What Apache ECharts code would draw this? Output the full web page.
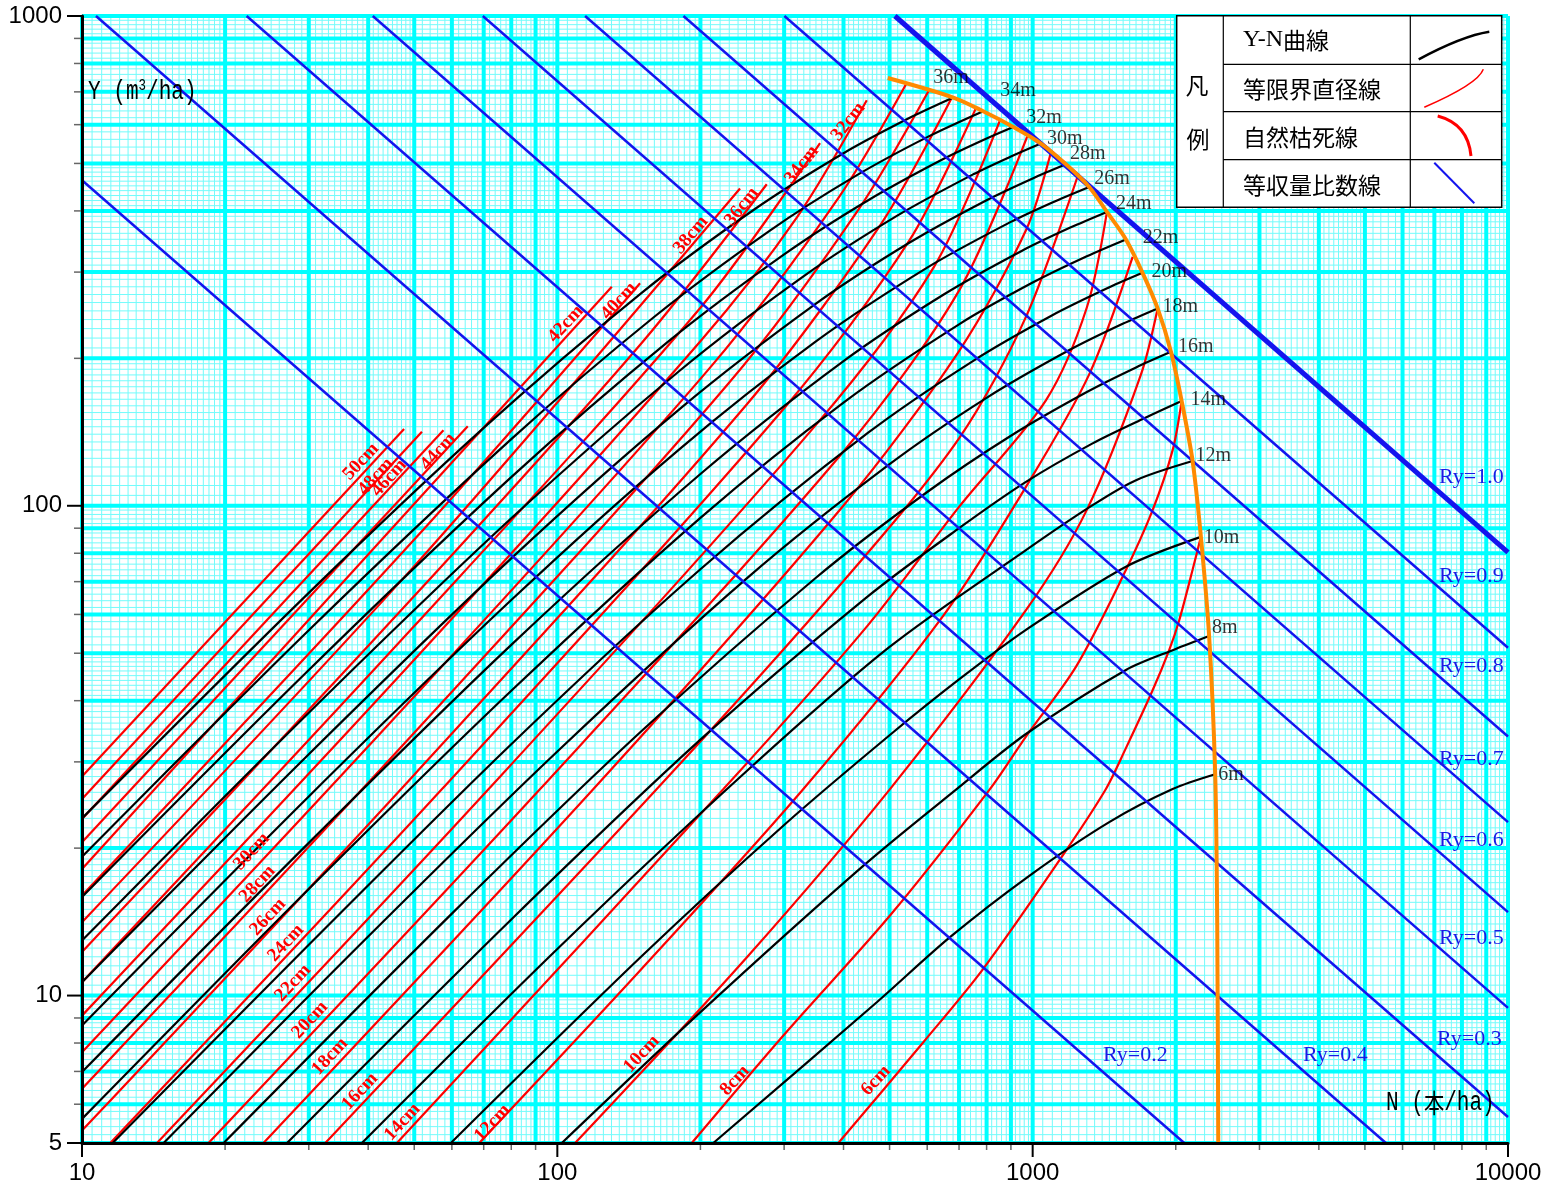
<!DOCTYPE html>
<html lang="ja">
<head>
<meta charset="utf-8">
<title>林分密度管理図</title>
<script src="https://cdn.jsdelivr.net/npm/echarts@6.0.0/dist/echarts.min.js"></script>
<style>
html,body{margin:0;padding:0;background:#fff;}
#chart{width:1546px;height:1189px;}
</style>
</head>
<body>
<div id="chart"></div>
<script>
// ---- axis ranges and tick labels ----
const N_MIN = 10, N_MAX = 10000, Y_MIN = 5, Y_MAX = 1000;
const xLabelValues = [10, 100, 1000, 10000];
const yLabelValues = [5, 10, 100, 1000];

// ---- Y-N curves (stand height H, m): [N (本/ha), Y (m3/ha)] ----
const heights = [6, 8, 10, 12, 14, 16, 18, 20, 22, 24, 26, 28, 30, 32, 34, 36];
const yn06 = [[212.9,5],[470,9.69],[670,13.16],[987,17.6],[1449,22.6],[1970,26.4],[2421,28.3]];
const yn08 = [[102.2,5],[200,9.25],[440,18.4],[692,26.4],[968,34.2],[1571,46.2],[2000,51],[2351,54.2]];
const yn10 = [[59.7,5],[150,12.0],[300,22.3],[500,34],[700,44.2],[968,55.8],[1571,75.1],[2259,86.4]];
const yn12 = [[38.8,5],[100,12.45],[250,28.7],[500,51.5],[968,81.2],[1337,100.3],[1650,112.8],[2170,123.4]];
const yn14 = [[27,5],[80,14.3],[200,33.3],[450,65.3],[700,90],[968,111.9],[1337,134.1],[1700,150.2],[2058,163.6]];
const yn16 = [[19.86,5],[60,14.7],[150,34.6],[350,71.3],[600,106.7],[900,139],[1300,170.7],[1650,191.6],[1954,206.2]];
const yn18 = [[14.85,5],[40,13.2],[100,31.5],[250,71],[500,121.6],[800,166.1],[1200,208.4],[1550,235.5],[1832,252.9]];
const yn20 = [[11.6,5],[30,12.7],[80,32.6],[200,74.2],[450,140.8],[750,197.7],[1100,244.9],[1450,279.3],[1703,299]];
const yn22 = [[10,5.6],[30,16.5],[80,41.9],[200,94.5],[400,162.5],[700,234.7],[1000,285.6],[1300,323.2],[1571,349.8]];
const yn24 = [[10,6.98],[30,20.5],[80,52],[200,116.1],[400,197.4],[650,270],[950,331.7],[1200,369.8],[1433,398.1]];
const yn26 = [[10,8.69],[30,25.5],[80,64.2],[180,130.1],[350,216.6],[600,306.4],[900,379.9],[1100,416.2],[1315,447.7]];
const yn28 = [[10,10.65],[30,31.1],[80,78.1],[180,157],[350,258.6],[550,344.3],[800,420.6],[1000,466],[1175,498]];
const yn30 = [[10,12.95],[30,37.8],[80,94.3],[180,188],[330,294.4],[520,391.6],[750,475.1],[900,516.6],[1041,549.1]];
const yn32 = [[10,15.9],[30,46.2],[80,114.4],[170,215.3],[300,326],[450,420.1],[650,511],[800,562.3],[910.4,593.6]];
const yn34 = [[10,19.2],[30,55.7],[80,136.8],[160,243.2],[280,364.7],[420,468.9],[600,565.8],[786.9,639.1]];
const yn36 = [[10,23],[30,66.4],[70,144.2],[150,271.5],[260,403.1],[400,524.5],[550,618.8],[680.8,681.6]];
const ynCurves = [yn06, yn08, yn10, yn12, yn14, yn16, yn18, yn20, yn22, yn24, yn26, yn28, yn30, yn32, yn34, yn36];

// ---- equal limit-diameter lines (D, cm) ----
const diameters = [6, 8, 10, 12, 14, 16, 18, 20, 22, 24, 26, 28, 30, 32, 34, 36, 38, 40, 42, 44, 46, 48, 50];
const d06 = [[390.1,5],[588.8,8.03],[787,11.34],[1156,19.31],[1426,26.41],[1571,32],[1788,42],[1938,50.8],[2034,58.4],[2170,74],[2259,86.4]];
const d08 = [[191.8,5],[298.9,8.29],[501,14.57],[813,26.4],[968,33.8],[1233,46.9],[1546,71.6],[1788,98],[1970,129.9],[2058,163.6]];
const d10 = [[109,5],[250,11.95],[501,26.4],[968,61.2],[1300,98.1],[1690,185.5],[1832,252.9]];
const d12 = [[68.5,5],[150,11.3],[329.3,26.4],[650,59.8],[968,109.3],[1315,185.5],[1623,322.2]];
const d14 = [[45.97,5],[223.6,26.4],[450,57],[700,99.5],[1067,164.4],[1300,254],[1433,398.1]];
const d16 = [[32.5,5],[161.9,26.4],[400,70.2],[700,137.3],[968,243],[1249,476.9]];
const d18 = [[24.09,5],[119.1,26.4],[400,100.1],[700,207],[968,365.3],[1093,527.8]];
const d20 = [[18.46,5],[92,26.4],[400,129.1],[700,275],[976,570.7]];
const d22 = [[14.38,5],[71.7,26.4],[350,146.3],[620,307.5],[856.3,617.5]];
const d24 = [[11.47,5],[57.2,26.4],[300,158.2],[550,347.7],[758.9,647.1]];
const d26 = [[10,5.3],[50,28.25],[250,160.8],[480,376.5],[676.6,682.6]];
const d28 = [[10,6.45],[50,34.4],[230,178.5],[430,402.5],[606.3,707.7]];
const d30 = [[10,7.66],[50,40.8],[210,191.9],[390,424.9],[543.3,730.1]];
const d32 = [[10,9.1],[50,48.5],[200,216.8],[320,389.6],[447.7,673]];
const d34 = [[10,10.65],[50,56.8],[200,253.7],[357,549.8]];
const d36 = [[10,12.27],[50,65.4],[150,214.2],[275.8,453.4]];
const d38 = [[10,14.12],[50,75.3],[242.3,444.4]];
const d40 = [[10,16],[50,85.3],[149.3,284.8]];
const d42 = [[10,18.14],[130.2,279.9]];
const d44 = [[10,20.56],[64.8,145.4]];
const d46 = [[10,22.94],[57.6,142.7]];
const d48 = [[10,25.2],[51.9,141.6]];
const d50 = [[10,28],[47.6,143.4]];
const diameterCurves = [d06, d08, d10, d12, d14, d16, d18, d20, d22, d24, d26, d28, d30, d32, d34, d36, d38, d40, d42, d44, d46, d48, d50];

// ---- natural thinning (self-thinning) line ----
const selfThinning = [[495.6,747],[680.8,681.6],[786.9,639.1],[910.4,593.6],[1041,549.1],[1175,498],[1315,447.7],[1433,398.1],[1571,349.8],[1703,299],[1832,252.9],[1954,206.2],[2058,163.6],[2170,123.4],[2259,86.4],[2351,54.2],[2421,28.3],[2445,14],[2457,5]];

// ---- equal yield-ratio lines ----
const ryValues = [1.0, 0.9, 0.8, 0.7, 0.6, 0.5, 0.4, 0.3, 0.2];
const ry10 = [[513,1000],[10000,80.3]];
const ry09 = [[300.4,1000],[10000,51.3]];
const ry08 = [[184.2,1000],[10000,33.8]];
const ry07 = [[114.4,1000],[10000,22.6]];
const ry06 = [[69.7,1000],[10000,14.8]];
const ry05 = [[40.9,1000],[10000,9.44]];
const ry04 = [[22.2,1000],[10000,5.65]];
const ry03 = [[10.7,1000],[5534,5]];
const ry02 = [[10,462],[2084,5]];
const ryLines = [ry10, ry09, ry08, ry07, ry06, ry05, ry04, ry03, ry02];

// ---- text layout ----
// [text, centre x, centre y, rotation in degrees]
const diameterLabelLayout = [
  ['6cm',876,1080.5,47],['8cm',735,1080.5,47],['10cm',641.7,1054,47],['12cm',492.5,1123,47],
  ['14cm',402.5,1122,47],['16cm',360,1091.5,47],['18cm',330,1056.5,47],['20cm',310,1020,47],
  ['22cm',293,983,47],['24cm',286,943,47],['26cm',268,917,47],['28cm',257.5,884,47],['30cm',251.7,851.5,47],
  ['32cm',848.3,121.7,52],['34cm',801.7,165,52],['36cm',741.7,206.7,52],['38cm',690.8,235,50],
  ['40cm',619,301,47],['42cm',565.8,324,47],['44cm',438.3,451.7,48],['46cm',389,478,48],
  ['48cm',375.8,476.7,48],['50cm',361,461.7,47]
];
// [text, left x, middle y]
const ryLabelLayout = [
  ['Ry=1.0',1439,477.5],['Ry=0.9',1439,576],['Ry=0.8',1439,666],['Ry=0.7',1439,759],
  ['Ry=0.6',1439,840],['Ry=0.5',1439,938],['Ry=0.3',1437,1039],['Ry=0.4',1303,1055],['Ry=0.2',1103,1055]
];
// label offset from the end of each Y-N curve, same order as heights
const heightLabelOffsets = [[3,1],[3,-8],[3,1],[3,-5],[9,-1],[7,-5],[5,-2],[9,-1],[17,-2],[9,-8],[5,-8],[4,-10],[6,-5],[13,-9],[17,-20],[-20,-20]];

// ---- log paper rulings ----
function logPaperLines(lo, hi) {
  const thin = [], thick = [];
  const e0 = Math.floor(Math.log10(lo) + 1e-9), e1 = Math.ceil(Math.log10(hi) - 1e-9);
  for (let e = e0; e < e1; e++) {
    const base = Math.pow(10, e);
    for (let m = 100; m < 1000;) {
      const v = base * m / 100;
      if (v >= lo * 0.9999 && v <= hi * 1.0001) (m % 100 === 0 ? thick : thin).push(v);
      m += m < 200 ? 5 : (m < 500 ? 10 : 20);
    }
  }
  thick.push(hi);
  return { thin, thick };
}
const xr = logPaperLines(N_MIN, N_MAX), yr = logPaperLines(Y_MIN, Y_MAX);
const paperData = [];
xr.thin.forEach(v => paperData.push([v, Y_MIN, 0, 0]));
yr.thin.forEach(v => paperData.push([N_MIN, v, 1, 0]));
xr.thick.forEach(v => paperData.push([v, Y_MIN, 0, 1]));
yr.thick.forEach(v => paperData.push([N_MIN, v, 1, 1]));

// ---- axis ticks (drawn outside the plot) ----
const tickData = [];
function minorTicks(lo, hi) {
  const out = [];
  for (let b = 1; b < hi; b *= 10) for (let m = 2; m <= 9; m++) { const v = b * m; if (v > lo && v < hi) out.push(v); }
  return out;
}
minorTicks(N_MIN, N_MAX).forEach(v => tickData.push([v, Y_MIN, 0, 0]));
minorTicks(Y_MIN, Y_MAX).forEach(v => { if (yLabelValues.indexOf(v) < 0) tickData.push([N_MIN, v, 1, 0]); });
xLabelValues.forEach(v => tickData.push([v, Y_MIN, 0, 1]));
yLabelValues.forEach(v => tickData.push([N_MIN, v, 1, 1]));

const chart = echarts.init(document.getElementById('chart'), null, { renderer: 'canvas' });

const series = [];
series.push({
  type: 'custom', name: 'paper', silent: true, clip: false, z: 1,
  data: paperData,
  renderItem(params, api) {
    const v0 = api.value(0), v1 = api.value(1), dir = api.value(2), major = api.value(3);
    let a, b;
    if (dir === 0) { a = api.coord([v0, Y_MIN]); b = api.coord([v0, Y_MAX]); }
    else { a = api.coord([N_MIN, v1]); b = api.coord([N_MAX, v1]); }
    return {
      type: 'line', silent: true,
      shape: { x1: a[0], y1: a[1], x2: b[0], y2: b[1] },
      style: { stroke: major ? '#00ffff' : '#74fbfb', lineWidth: major ? 4 : 1 }
    };
  }
});
series.push({
  type: 'custom', name: 'ticks', silent: true, clip: false, z: 8,
  data: tickData,
  renderItem(params, api) {
    const dir = api.value(2), major = api.value(3);
    const p = api.coord([api.value(0), api.value(1)]);
    const children = [];
    const font = '24px "Liberation Sans", Arial, sans-serif';
    if (dir === 0) {
      children.push({ type: 'line', shape: { x1: p[0], y1: p[1], x2: p[0], y2: p[1] + (major ? 14 : 7) },
        style: { stroke: major ? '#000' : '#666', lineWidth: major ? 2 : 1.5 } });
      if (major) children.push({ type: 'text', style: { text: String(api.value(0)), x: p[0], y: p[1] + 18,
        align: 'center', verticalAlign: 'top', font: font, fill: '#000' } });
    } else {
      children.push({ type: 'line', shape: { x1: p[0] - (major ? 15 : 8), y1: p[1], x2: p[0], y2: p[1] },
        style: { stroke: major ? '#000' : '#666', lineWidth: major ? 2 : 1.5 } });
      if (major) children.push({ type: 'text', style: { text: String(api.value(1)), x: p[0] - 20, y: p[1],
        align: 'right', verticalAlign: 'middle', font: font, fill: '#000' } });
    }
    return { type: 'group', children: children };
  }
});

diameterCurves.forEach((pts, i) => series.push({
  type: 'line', name: diameters[i] + 'cm', data: pts, smooth: 0.3,
  showSymbol: false, symbol: 'none', silent: true, z: 3,
  lineStyle: { color: '#ff0000', width: 2.2 }
}));
ynCurves.forEach((pts, i) => series.push({
  type: 'line', name: heights[i] + 'm', data: pts, smooth: 0.3,
  showSymbol: false, symbol: 'none', silent: true, z: 4,
  lineStyle: { color: '#000000', width: 2.2 }
}));
ryLines.forEach((pts, i) => series.push({
  type: 'line', name: 'Ry=' + ryValues[i].toFixed(1), data: pts,
  showSymbol: false, symbol: 'none', silent: true, z: 5,
  lineStyle: { color: '#1414ee', width: i === 0 ? 5 : 2.5 }
}));
series.push({
  type: 'line', name: '自然枯死線', data: selfThinning, smooth: 0.3,
  showSymbol: false, symbol: 'none', silent: true, z: 6,
  lineStyle: { color: '#ff8a00', width: 4 }
});
// height labels at the end of each Y-N curve
series.push({
  type: 'scatter', name: 'heightLabels', silent: true, z: 7,
  symbolSize: 0.1, itemStyle: { color: 'rgba(0,0,0,0)' },
  data: ynCurves.map((pts, i) => ({
    value: pts[pts.length - 1],
    label: {
      show: true, formatter: heights[i] + 'm', position: heightLabelOffsets[i],
      align: 'left', verticalAlign: 'middle',
      fontFamily: '"Liberation Serif", "Times New Roman", serif', fontSize: 20, color: '#000'
    }
  }))
});

const graphics = [];
diameterLabelLayout.forEach(([t, x, y, deg]) => graphics.push({
  type: 'text', x: x, y: y, rotation: deg * Math.PI / 180, z: 20, silent: true,
  style: { text: t, fill: '#ff0000', font: 'bold 19px "Liberation Serif", "Times New Roman", serif',
    align: 'center', verticalAlign: 'middle' }
}));
ryLabelLayout.forEach(([t, x, y]) => graphics.push({
  type: 'text', x: x, y: y, z: 20, silent: true,
  style: { text: t, fill: '#1a1ae6', font: '22px "Liberation Serif", "Times New Roman", serif',
    align: 'left', verticalAlign: 'middle' }
}));
// axis names (narrow, tall gothic look)
const mono = '"Liberation Mono", "DejaVu Sans Mono", monospace';
graphics.push({
  type: 'text', x: 88, y: 92, z: 20, silent: true, scaleX: 0.78,
  style: {
    text: '{a|Y (m}{s|3}{a|/ha)}', verticalAlign: 'middle', align: 'left',
    rich: { a: { font: '27px ' + mono, fill: '#000', lineHeight: 28 },
            s: { font: '16px ' + mono, fill: '#000', verticalAlign: 'top', lineHeight: 28 } }
  }
});
graphics.push({
  type: 'text', x: 1386, y: 1103, z: 20, silent: true, scaleX: 0.78,
  style: {
    text: '{a|N (}{c|本}{a|/ha)}', verticalAlign: 'middle', align: 'left',
    rich: { a: { font: '27px ' + mono, fill: '#000' },
            c: { font: '26px "Noto Sans CJK JP", sans-serif', fill: '#000' } }
  }
});
// legend table (凡例)
const L = { x0: 1176.7, x1: 1501.7, y0: 15.7, y1: 207.3, c1: 1223.3, c2: 1410.3, rows: [64.3, 111.7, 159.7] };
const cjk = '"Noto Sans CJK JP", sans-serif';
const legendItems = [
  { type: 'rect', shape: { x: L.x0, y: L.y0, width: L.x1 - L.x0, height: L.y1 - L.y0 },
    style: { fill: '#fff', stroke: '#000', lineWidth: 1.5 } },
  { type: 'line', shape: { x1: L.c1, y1: L.y0, x2: L.c1, y2: L.y1 }, style: { stroke: '#000', lineWidth: 1.2 } },
  { type: 'line', shape: { x1: L.c2, y1: L.y0, x2: L.c2, y2: L.y1 }, style: { stroke: '#000', lineWidth: 1.2 } }
];
L.rows.forEach(y => legendItems.push({ type: 'line', shape: { x1: L.c1, y1: y, x2: L.x1, y2: y }, style: { stroke: '#000', lineWidth: 1.2 } }));
legendItems.push(
  { type: 'text', style: { text: '凡', x: 1197, y: 85, align: 'center', verticalAlign: 'middle', font: '23px ' + cjk, fill: '#000' } },
  { type: 'text', style: { text: '例', x: 1198, y: 139, align: 'center', verticalAlign: 'middle', font: '23px ' + cjk, fill: '#000' } },
  { type: 'text', style: { text: '{a|Y-N}{b|曲線}', x: 1243, y: 40, verticalAlign: 'middle',
      rich: { a: { font: '24px "Liberation Serif", serif', fill: '#000' }, b: { font: '23px ' + cjk, fill: '#000' } } } },
  { type: 'text', style: { text: '等限界直径線', x: 1243, y: 89, verticalAlign: 'middle', font: '23px ' + cjk, fill: '#000' } },
  { type: 'text', style: { text: '自然枯死線', x: 1243, y: 137.5, verticalAlign: 'middle', font: '23px ' + cjk, fill: '#000' } },
  { type: 'text', style: { text: '等収量比数線', x: 1243, y: 185, verticalAlign: 'middle', font: '23px ' + cjk, fill: '#000' } },
  { type: 'bezierCurve', shape: { x1: 1418.7, y1: 59.3, cpx1: 1462, cpy1: 36, x2: 1489.3, y2: 31.7 },
    style: { stroke: '#000', lineWidth: 2.5, fill: null } },
  { type: 'bezierCurve', shape: { x1: 1424.3, y1: 107.3, cpx1: 1478, cpy1: 84, x2: 1483.3, y2: 69.3 },
    style: { stroke: '#ff0000', lineWidth: 1.5, fill: null } },
  { type: 'bezierCurve', shape: { x1: 1437.7, y1: 116, cpx1: 1468, cpy1: 124, x2: 1471, y2: 156 },
    style: { stroke: '#ff0000', lineWidth: 3, fill: null } },
  { type: 'line', shape: { x1: 1434.3, y1: 162.7, x2: 1474.3, y2: 203.3 }, style: { stroke: '#1414ee', lineWidth: 2 } }
);
legendItems.forEach((el, i) => { el.z = 40 + (i === 0 ? 0 : 1); el.silent = true; graphics.push(el); });

chart.setOption({
  backgroundColor: '#ffffff',
  animation: false,
  grid: { left: 82, right: 38, top: 16, bottom: 46, containLabel: false },
  xAxis: {
    type: 'log', logBase: 10, min: N_MIN, max: N_MAX,
    axisLine: { show: true, onZero: false, lineStyle: { color: '#000', width: 3 } },
    axisTick: { show: false }, axisLabel: { show: false }, splitLine: { show: false }, z: 9
  },
  yAxis: {
    type: 'log', logBase: 10, min: Y_MIN, max: Y_MAX,
    axisLine: { show: true, onZero: false, lineStyle: { color: '#000', width: 3 } },
    axisTick: { show: false }, axisLabel: { show: false }, splitLine: { show: false }, z: 9
  },
  series: series,
  graphic: graphics
});
</script>
</body>
</html>
